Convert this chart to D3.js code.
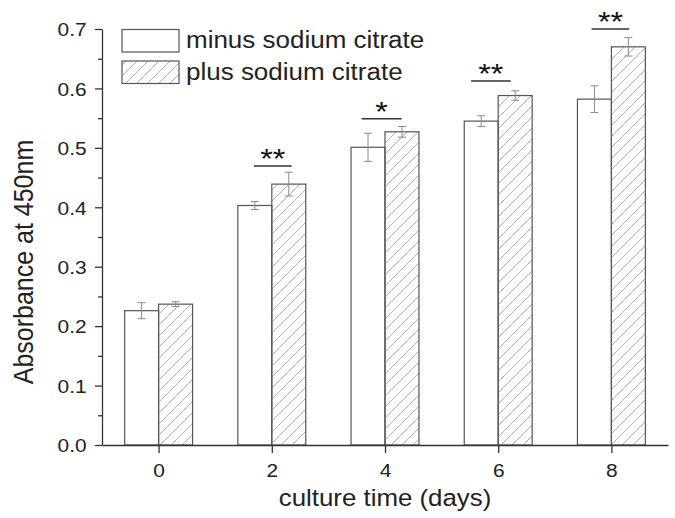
<!DOCTYPE html>
<html><head><meta charset="utf-8">
<script src="https://cdn.jsdelivr.net/npm/d3@7"></script>
<style>body{margin:0;background:#fff}svg{display:block}</style></head>
<body>
<svg id="c" width="675" height="518"></svg>
<script>
const days = [0, 2, 4, 6, 8];
const minusValues = [0.226, 0.403, 0.501, 0.545, 0.582];
const minusErrors = [0.0135, 0.0067, 0.0236, 0.009, 0.0224];
const plusValues = [0.237, 0.439, 0.527, 0.588, 0.670];
const plusErrors = [0.004, 0.020, 0.009, 0.008, 0.0155];
const seriesNames = ["minus sodium citrate", "plus sodium citrate"];
const sigLabels = ["**", "*", "**", "**"];
const sigLevels = [0.4695, 0.549, 0.6125, 0.70];
const sigStart = [1.684, 3.587, 5.52, 7.65];
const sigEnd = [2.35, 4.293, 6.22, 8.315];
const yTicks = [0, 0.1, 0.2, 0.3, 0.4, 0.5, 0.6, 0.7];
const yMinorTicks = [0.05, 0.15, 0.25, 0.35, 0.45, 0.55, 0.65];
const xTicks = [0, 2, 4, 6, 8];

const svg = d3.select("#c");
const FONT = "'Liberation Sans', Arial, sans-serif";
const SX = 1.1;
const x = d3.scaleLinear().domain([-1, 9]).range([102, 668]);
const y = d3.scaleLinear().domain([0, 0.7]).range([445, 29]);
const barW = 0.6;

const defs = svg.append("defs");
const pat = defs.append("pattern").attr("id", "hatch").attr("patternUnits", "userSpaceOnUse")
  .attr("width", 11).attr("height", 11);
pat.append("path").attr("d", "M0,11L11,0M-1,1L1,-1M10,12L12,10")
  .attr("stroke", "#a8a8a8").attr("stroke-width", 0.9).attr("fill", "none");

// bars
const g = svg.append("g");
days.forEach((d, i) => {
  g.append("rect").attr("x", x(d - barW)).attr("y", y(minusValues[i]))
    .attr("width", x(d) - x(d - barW)).attr("height", y(0) - y(minusValues[i]))
    .attr("fill", "#fff").attr("stroke", "#555").attr("stroke-width", 1.2);
  g.append("rect").attr("x", x(d)).attr("y", y(plusValues[i]))
    .attr("width", x(d + barW) - x(d)).attr("height", y(0) - y(plusValues[i]))
    .attr("fill", "url(#hatch)").attr("stroke", "#555").attr("stroke-width", 1.2);
});

// error bars
function errBar(cx, v, e) {
  const eg = g.append("g").attr("stroke", "#8a8a8a").attr("stroke-width", 1);
  eg.append("line").attr("x1", cx).attr("x2", cx).attr("y1", y(v - e)).attr("y2", y(v + e));
  eg.append("line").attr("x1", cx - 4).attr("x2", cx + 4).attr("y1", y(v - e)).attr("y2", y(v - e));
  eg.append("line").attr("x1", cx - 4).attr("x2", cx + 4).attr("y1", y(v + e)).attr("y2", y(v + e));
}
days.forEach((d, i) => {
  errBar(x(d - barW / 2), minusValues[i], minusErrors[i]);
  errBar(x(d + barW / 2), plusValues[i], plusErrors[i]);
});

// significance
sigLabels.forEach((lab, i) => {
  g.append("line").attr("x1", x(sigStart[i])).attr("x2", x(sigEnd[i]))
    .attr("y1", y(sigLevels[i])).attr("y2", y(sigLevels[i]))
    .attr("stroke", "#333").attr("stroke-width", 1.5);
  const cx = (x(sigStart[i]) + x(sigEnd[i])) / 2;
  g.append("text").attr("transform", `translate(${cx},${y(sigLevels[i]) + 2}) scale(1.15,1)`)
    .attr("text-anchor", "middle").attr("font-family", FONT).attr("font-size", 28)
    .attr("fill", "#111").text(lab);
});

// axes
const yAxis = svg.append("g").attr("transform", `translate(${x(-1)},0)`)
  .call(d3.axisLeft(y).tickValues(yTicks).tickFormat(d3.format(".1f")).tickSize(7).tickSizeOuter(0));
yAxis.selectAll("text").attr("x", -14).attr("dy", "0.36em")
  .attr("transform", `scale(${SX},1)`).attr("font-size", 19).attr("font-family", FONT).attr("fill", "#222");
svg.append("g").attr("transform", `translate(${x(-1)},0)`)
  .call(d3.axisLeft(y).tickValues(yMinorTicks).tickFormat("").tickSize(4).tickSizeOuter(0))
  .select(".domain").remove();

const xAxis = svg.append("g").attr("transform", `translate(0,${y(0)})`)
  .call(d3.axisBottom(x).tickValues(xTicks).tickFormat(d3.format("d")).tickSize(8).tickSizeOuter(0));
xAxis.selectAll("text").attr("y", 32).attr("dy", 0)
  .attr("transform", `scale(${SX},1)`).attr("font-size", 19).attr("font-family", FONT).attr("fill", "#222");

svg.selectAll(".domain, .tick line").attr("stroke", "#333").attr("stroke-width", 1.3);

// axis titles
svg.append("text").attr("transform", `translate(385,506) scale(${SX},1)`)
  .attr("text-anchor", "middle").attr("font-family", FONT).attr("font-size", 23.5).attr("fill", "#222")
  .text("culture time (days)");
svg.append("text").attr("transform", `translate(33,262) scale(1.1,1) rotate(-90)`)
  .attr("text-anchor", "middle").attr("font-family", FONT).attr("font-size", 25).attr("fill", "#222")
  .text("Absorbance at 450nm");

// legend
const leg = svg.append("g");
const legFills = ["#fff", "url(#hatch)"];
const legY = [29.5, 61];
const legBase = [48, 80];
seriesNames.forEach((n, i) => {
  leg.append("rect").attr("x", 122).attr("y", legY[i]).attr("width", 57).attr("height", 22.5)
    .attr("fill", legFills[i]).attr("stroke", "#555").attr("stroke-width", 1.2);
  leg.append("text").attr("transform", `translate(186,${legBase[i]}) scale(1.13,1)`)
    .attr("font-family", FONT).attr("font-size", 23).attr("fill", "#222").text(n);
});
</script>
</body></html>
